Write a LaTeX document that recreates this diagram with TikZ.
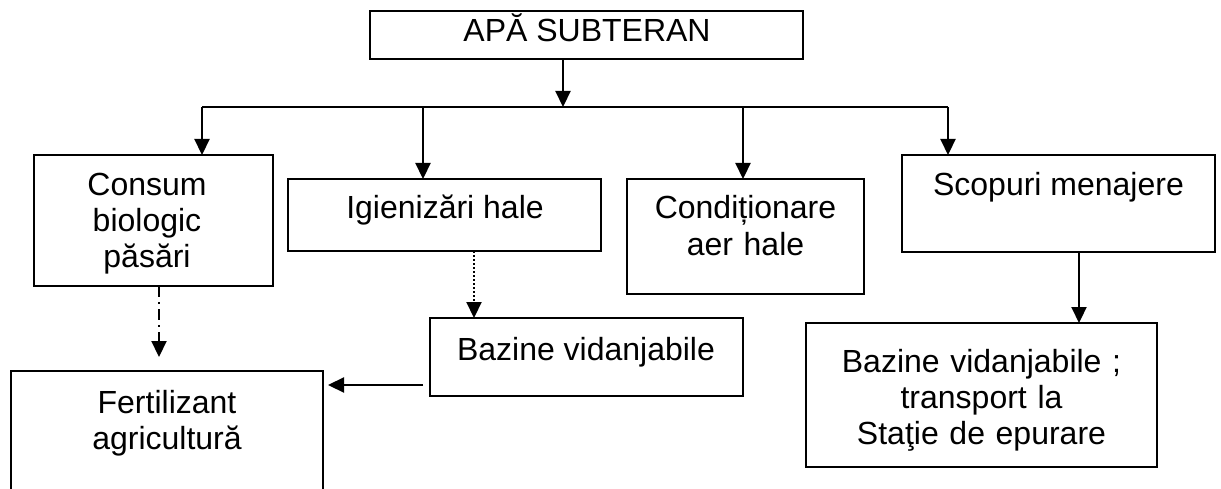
\documentclass[tikz,border=0pt]{standalone}
\usepackage{fontspec}
\setmainfont{Liberation Sans}
\usetikzlibrary{arrows.meta}
\tikzset{
  box/.style={draw, line width=2pt, inner sep=0pt, outer sep=0pt},
  lbl/.style={font=\fontsize{32}{36}\selectfont, align=center, anchor=base, inner sep=0pt},
  arr/.style={line width=2.2pt, -{Triangle[length=16pt,width=15pt]}},
  ln/.style={line width=2.2pt},
  dotpat/.style={dash pattern=on 2pt off 2pt},
  dashdot/.style={dash pattern=on 11pt off 5pt on 2pt off 5pt},
}
\begin{document}
\begin{tikzpicture}[x=1pt,y=-1pt]
\useasboundingbox (0,0) rectangle (1221,489);
\clip (0,0) rectangle (1221,489);
% boxes
\node[box, minimum width=433pt, minimum height=48pt] (top) at (586.5,35) {};
\node[box, minimum width=239pt, minimum height=131pt] (consum) at (153.5,220.5) {};
\node[box, minimum width=313pt, minimum height=72pt] (igien) at (444.5,215) {};
\node[box, minimum width=237pt, minimum height=115pt] (cond) at (745.5,236.5) {};
\node[box, minimum width=313pt, minimum height=97pt] (scop) at (1058.5,203.5) {};
\node[box, minimum width=313pt, minimum height=78pt] (baz1) at (586.5,357) {};
\node[box, minimum width=312pt, minimum height=149pt] (fert) at (167,445.5) {};
\node[box, minimum width=351pt, minimum height=144pt] (baz2) at (981.5,395) {};
% texts
\node[lbl] (ttop) at (587,42) {APĂ SUBTERAN};
\node[lbl, text width=230pt] (tconsum) at (147,196) {Consum\\biologic\\păsări};
\node[lbl] (tigien) at (445,219) {Igienizări hale};
\node[lbl, text width=230pt] (tcond) at (745.5,219) {Condiționare\\aer hale};
\node[lbl] (tscop) at (1058.5,196) {Scopuri menajere};
\node[lbl] (tbaz1) at (586,360) {Bazine vidanjabile};
\node[lbl, text width=300pt] (tfert) at (167,413) {Fertilizant\\agricultură};
\node[lbl, text width=340pt] (tbaz2) at (981.5,372) {Bazine vidanjabile ;\\transport la\\Staţie de epurare};
% bus
\coordinate (bus) at (563,107);
\coordinate (b1) at (202,107);
\coordinate (b2) at (423,107);
\coordinate (b3) at (743,107);
\coordinate (b4) at (948,107);
\draw[arr] (top.south -| bus) -- (bus);
\draw[ln] (b1) -- (b4);
\draw[arr] (b1) -- (b1 |- consum.north);
\draw[arr] (b2) -- (b2 |- igien.north);
\draw[arr] (b3) -- (b3 |- cond.north);
\draw[arr] (b4) -- (b4 |- scop.north);
% lower connectors
\coordinate (xd) at (474,0);
\coordinate (xc) at (159,0);
\coordinate (xs) at (1079,0);
\coordinate (yh) at (0,385);
\draw[arr, dotpat] (igien.south -| xd) -- (baz1.north -| xd);
\draw[arr, dashdot, shorten >=14pt] (consum.south -| xc) -- (fert.north -| xc);
\draw[arr] (scop.south -| xs) -- (baz2.north -| xs);
\draw[arr, shorten <=7pt, shorten >=5pt] (baz1.west |- yh) -- (fert.east |- yh);
\end{tikzpicture}
\end{document}
